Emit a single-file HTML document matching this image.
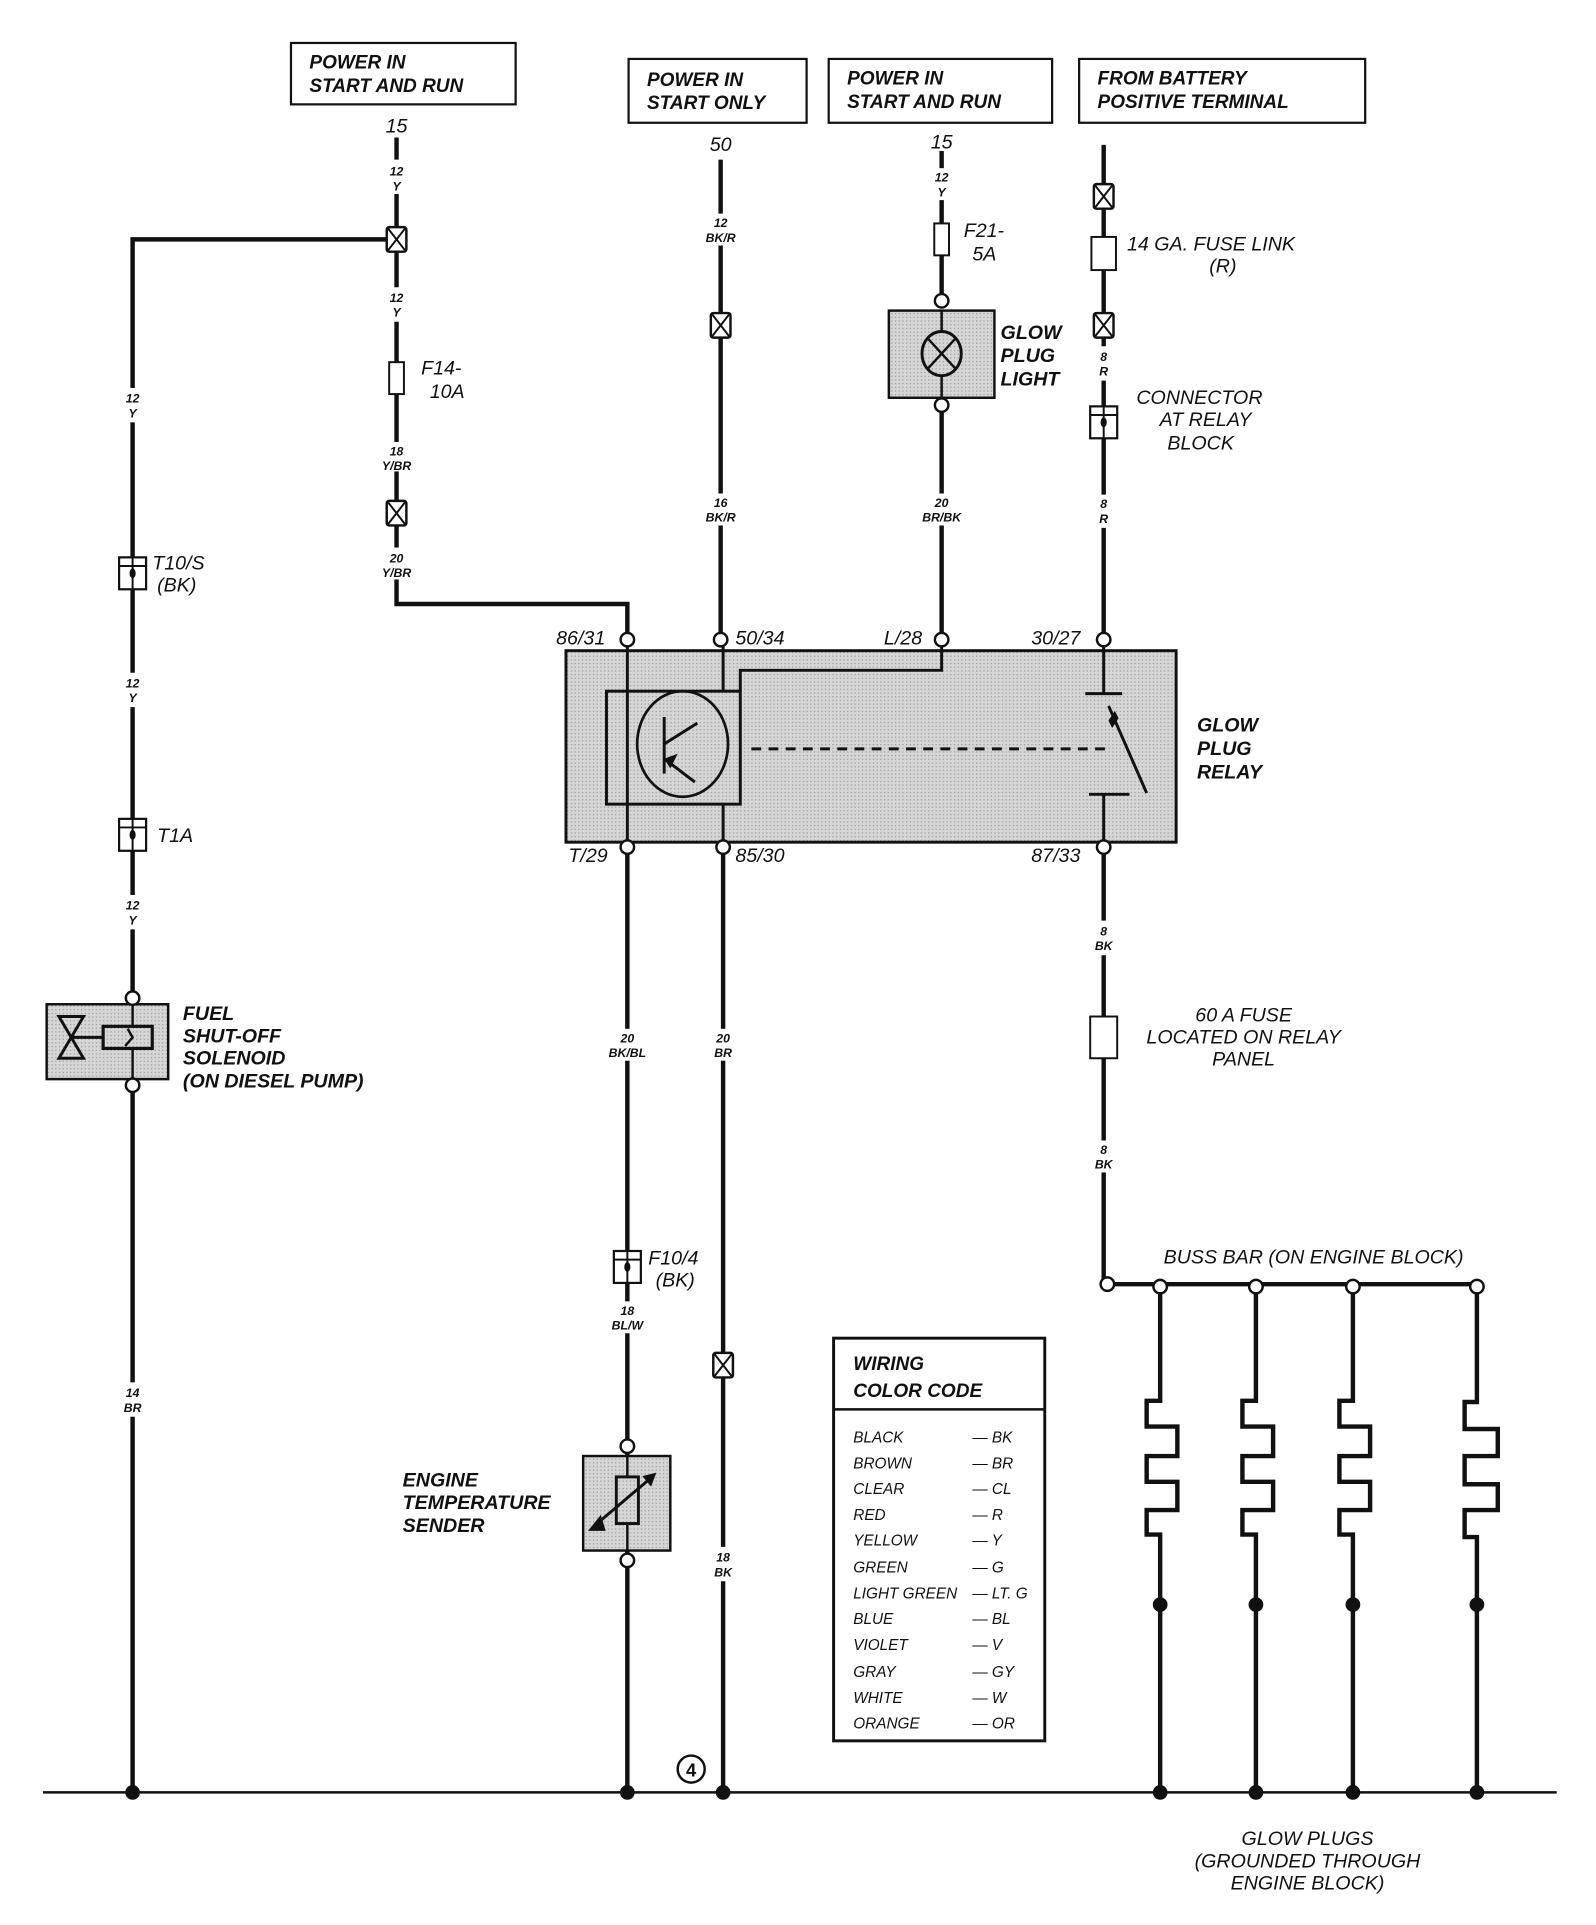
<!DOCTYPE html>
<html><head><meta charset="utf-8"><style>
html,body{margin:0;padding:0;background:#fff}
svg{display:block}
text{font-family:"Liberation Sans",Arial,sans-serif;font-style:italic;fill:#111}
.h{font-size:15.5px;font-weight:bold}
.w{font-size:10px;font-weight:bold;text-anchor:middle}
.b{font-size:16px;font-weight:bold}
.n{font-size:16px}
.c{font-size:12.5px}
</style></head><body>
<svg width="1596" height="1925" viewBox="0 0 1300 1568" xmlns="http://www.w3.org/2000/svg">
<defs>
<pattern id="g" width="3" height="3" patternUnits="userSpaceOnUse"><rect width="3" height="3" fill="#d6d6d6"/><rect width="1" height="1" fill="#9a9a9a"/></pattern>
<g id="sp"><rect x="-8" y="-10" width="16" height="20" rx="2" fill="#fff" stroke="#111" stroke-width="2"/><path d="M-7 -9L7 9M7 -9L-7 9" stroke="#111" stroke-width="1.6"/></g>
<g id="fu"><rect x="-6" y="-13" width="12" height="26" fill="#fff" stroke="#111" stroke-width="1.6"/></g>
<g id="cn"><rect x="-11" y="-13" width="22" height="26" fill="#fff" stroke="#111" stroke-width="1.8"/><line x1="-11" y1="-6" x2="11" y2="-6" stroke="#111" stroke-width="1.6"/><line x1="0" y1="-13" x2="0" y2="13" stroke="#111" stroke-width="1.6"/><ellipse cx="0" cy="0" rx="2.5" ry="4" fill="#111"/></g>
<g id="oc"><circle r="5.5" fill="#fff" stroke="#111" stroke-width="2"/></g>
</defs>

<!-- header boxes -->
<g fill="#fff" stroke="#111" stroke-width="1.8">
<rect x="237" y="35" width="183" height="50"/>
<rect x="512" y="48" width="145" height="52"/>
<rect x="675" y="48" width="182" height="52"/>
<rect x="879" y="48" width="233" height="52"/>
</g>
<text class="h" x="252" y="56">POWER IN</text><text class="h" x="252" y="75">START AND RUN</text>
<text class="h" x="527" y="70">POWER IN</text><text class="h" x="527" y="89">START ONLY</text>
<text class="h" x="690" y="69">POWER IN</text><text class="h" x="690" y="88">START AND RUN</text>
<text class="h" x="894" y="69">FROM BATTERY</text><text class="h" x="894" y="88">POSITIVE TERMINAL</text>

<!-- wires -->
<g stroke="#111" stroke-width="3.6" fill="none">
<path d="M323 112V130M323 158V235M323 262V492H511V521"/>
<path d="M108 1460V195H323"/>
<path d="M587 130V175M587 200V403M587 428V521"/>
<path d="M767 123V138M767 162V245M767 330V403M767 428V521"/>
<path d="M899 118V282M899 310V403M899 430V521"/>
<path d="M511 690V1460M589 690V1460"/>
<path d="M899 690V750M899 778V930M899 955V1046H1203"/>
<path d="M945 1048V1141H934V1162H959V1186H934V1207H959V1230H934V1250H945V1460"/>
<path d="M1023 1048V1141H1012V1162H1037V1186H1012V1207H1037V1230H1012V1250H1023V1460"/>
<path d="M1102 1048V1141H1091V1162H1116V1186H1091V1207H1116V1230H1091V1250H1102V1460"/>
<path d="M1203 1048V1142H1193V1164H1220V1186H1193V1209H1220V1230H1193V1252H1203V1460"/>
</g>
<line x1="35" y1="1460" x2="1268" y2="1460" stroke="#111" stroke-width="2"/>

<!-- wire label gaps -->
<g fill="#fff">
<rect x="313" y="131" width="20" height="26"/><rect x="313" y="234" width="20" height="28"/><rect x="308" y="360" width="30" height="24"/><rect x="308" y="446" width="30" height="26"/>
<rect x="98" y="316" width="20" height="28"/><rect x="98" y="548" width="20" height="28"/><rect x="98" y="729" width="20" height="28"/><rect x="98" y="1126" width="20" height="28"/>
<rect x="572" y="174" width="30" height="26"/><rect x="572" y="402" width="30" height="26"/>
<rect x="752" y="137" width="30" height="26"/><rect x="750" y="402" width="34" height="26"/>
<rect x="889" y="283" width="20" height="26"/><rect x="889" y="403" width="20" height="26"/><rect x="889" y="750" width="20" height="28"/><rect x="889" y="929" width="20" height="26"/>
<rect x="495" y="838" width="32" height="26"/><rect x="576" y="838" width="26" height="26"/><rect x="495" y="1060" width="32" height="26"/><rect x="576" y="1260" width="26" height="28"/>
</g>
<g>
<text class="w" x="323" y="143">12</text><text class="w" x="323" y="155">Y</text>
<text class="w" x="323" y="246">12</text><text class="w" x="323" y="258">Y</text>
<text class="w" x="323" y="371">18</text><text class="w" x="323" y="383">Y/BR</text>
<text class="w" x="323" y="458">20</text><text class="w" x="323" y="470">Y/BR</text>
<text class="w" x="108" y="328">12</text><text class="w" x="108" y="340">Y</text>
<text class="w" x="108" y="560">12</text><text class="w" x="108" y="572">Y</text>
<text class="w" x="108" y="741">12</text><text class="w" x="108" y="753">Y</text>
<text class="w" x="108" y="1138">14</text><text class="w" x="108" y="1150">BR</text>
<text class="w" x="587" y="185">12</text><text class="w" x="587" y="197">BK/R</text>
<text class="w" x="587" y="413">16</text><text class="w" x="587" y="425">BK/R</text>
<text class="w" x="767" y="148">12</text><text class="w" x="767" y="160">Y</text>
<text class="w" x="767" y="413">20</text><text class="w" x="767" y="425">BR/BK</text>
<text class="w" x="899" y="294">8</text><text class="w" x="899" y="306">R</text>
<text class="w" x="899" y="414">8</text><text class="w" x="899" y="426">R</text>
<text class="w" x="899" y="762">8</text><text class="w" x="899" y="774">BK</text>
<text class="w" x="899" y="940">8</text><text class="w" x="899" y="952">BK</text>
<text class="w" x="511" y="849">20</text><text class="w" x="511" y="861">BK/BL</text>
<text class="w" x="589" y="849">20</text><text class="w" x="589" y="861">BR</text>
<text class="w" x="511" y="1071">18</text><text class="w" x="511" y="1083">BL/W</text>
<text class="w" x="589" y="1272">18</text><text class="w" x="589" y="1284">BK</text>
</g>
<text class="n" x="323" y="108" text-anchor="middle">15</text>
<text class="n" x="587" y="123" text-anchor="middle">50</text>
<text class="n" x="767" y="121" text-anchor="middle">15</text>

<!-- splices, fuses, connectors -->
<use href="#sp" x="323" y="195"/><use href="#sp" x="323" y="418"/><use href="#sp" x="587" y="265"/>
<use href="#sp" x="899" y="160"/><use href="#sp" x="899" y="265"/><use href="#sp" x="589" y="1112"/>
<use href="#fu" x="323" y="308"/><use href="#fu" x="767" y="195"/>
<rect x="889" y="193" width="20" height="27" fill="#fff" stroke="#111" stroke-width="1.6"/>
<rect x="888" y="828" width="22" height="34" fill="#fff" stroke="#111" stroke-width="1.6"/>
<use href="#cn" x="108" y="467"/><use href="#cn" x="108" y="680"/><use href="#cn" x="899" y="344"/><use href="#cn" x="511" y="1032"/>
<text class="n" x="343" y="305">F14-</text><text class="n" x="350" y="324">10A</text>
<text class="n" x="785" y="193">F21-</text><text class="n" x="792" y="212">5A</text>
<text class="n" x="918" y="204">14 GA. FUSE LINK</text><text class="n" x="985" y="222">(R)</text>
<text class="n" x="977" y="329" text-anchor="middle">CONNECTOR</text><text class="n" x="982" y="347" text-anchor="middle">AT RELAY</text><text class="n" x="978" y="366" text-anchor="middle">BLOCK</text>
<text class="n" x="124" y="464">T10/S</text><text class="n" x="128" y="482">(BK)</text>
<text class="n" x="128" y="686">T1A</text>
<text class="n" x="528" y="1030">F10/4</text><text class="n" x="534" y="1048">(BK)</text>
<text class="n" x="1013" y="832" text-anchor="middle">60 A FUSE</text><text class="n" x="1013" y="850" text-anchor="middle">LOCATED ON RELAY</text><text class="n" x="1013" y="868" text-anchor="middle">PANEL</text>

<!-- glow plug light -->
<rect x="724" y="253" width="86" height="71" fill="url(#g)" stroke="#111" stroke-width="2"/>
<line x1="767" y1="253" x2="767" y2="324" stroke="#111" stroke-width="2"/>
<ellipse cx="767" cy="288" rx="16" ry="18" fill="url(#g)" stroke="#111" stroke-width="2.4"/>
<path d="M756 276L778 300M778 276L756 300" stroke="#111" stroke-width="2"/>
<use href="#oc" x="767" y="245"/><use href="#oc" x="767" y="330"/>
<text class="b" x="815" y="276">GLOW</text><text class="b" x="815" y="295">PLUG</text><text class="b" x="815" y="314">LIGHT</text>

<!-- relay -->
<rect x="461" y="530" width="497" height="156" fill="url(#g)" stroke="#111" stroke-width="2.4"/>
<g stroke="#111" stroke-width="2.4" fill="none">
<path d="M511 521V690M589 521V563M589 655V690M767 521V546H603V563"/>
<rect x="494" y="563" width="109" height="92"/>
<ellipse cx="556" cy="606" rx="37" ry="43" stroke-width="2.2"/>
<path d="M541 584V630M541 606L568 589M541 618L566 637"/>
<path d="M899 521V565M884 565H914M887 647H920M899 647V690M903 575L934 646"/>
<path d="M612 610H900" stroke-dasharray="8 6"/>
</g>
<path d="M541 618L552 614L546 626Z" fill="#111"/>
<path d="M904 587L908 581L910 585L906 591Z" fill="#111" stroke="#111" stroke-width="2"/>
<use href="#oc" x="511" y="521"/><use href="#oc" x="587" y="521"/><use href="#oc" x="767" y="521"/><use href="#oc" x="899" y="521"/>
<use href="#oc" x="511" y="690"/><use href="#oc" x="589" y="690"/><use href="#oc" x="899" y="690"/>
<text class="n" x="453" y="525">86/31</text><text class="n" x="599" y="525">50/34</text><text class="n" x="720" y="525">L/28</text><text class="n" x="840" y="525">30/27</text>
<text class="n" x="463" y="702">T/29</text><text class="n" x="599" y="702">85/30</text><text class="n" x="840" y="702">87/33</text>
<text class="b" x="975" y="596">GLOW</text><text class="b" x="975" y="615">PLUG</text><text class="b" x="975" y="634">RELAY</text>

<!-- fuel solenoid -->
<rect x="38" y="818" width="99" height="61" fill="url(#g)" stroke="#111" stroke-width="2"/>
<line x1="108" y1="818" x2="108" y2="879" stroke="#111" stroke-width="2"/>
<path d="M48 828H68L48 862H68Z" fill="none" stroke="#111" stroke-width="2.4"/>
<path d="M58 845H84" stroke="#111" stroke-width="2.4"/>
<rect x="84" y="836" width="40" height="18" fill="url(#g)" stroke="#111" stroke-width="2.6"/>
<path d="M104 838L108 845L102 852" stroke="#111" stroke-width="2" fill="none"/>
<use href="#oc" x="108" y="813"/><use href="#oc" x="108" y="884"/>
<text class="b" x="149" y="831">FUEL</text><text class="b" x="149" y="849">SHUT-OFF</text><text class="b" x="149" y="867">SOLENOID</text><text class="b" x="149" y="886">(ON DIESEL PUMP)</text>

<!-- engine temp sender -->
<rect x="475" y="1186" width="71" height="77" fill="url(#g)" stroke="#111" stroke-width="2"/>
<line x1="511" y1="1186" x2="511" y2="1263" stroke="#111" stroke-width="2"/>
<rect x="502" y="1203" width="18" height="38" fill="url(#g)" stroke="#111" stroke-width="2.4"/>
<path d="M484 1243L530 1204" stroke="#111" stroke-width="2.4"/>
<path d="M481 1246L489 1236L492 1246Z M533 1201L525 1203L530 1209Z" fill="#111" stroke="#111" stroke-width="2"/>
<use href="#oc" x="511" y="1178"/><use href="#oc" x="511" y="1271"/>
<text class="b" x="328" y="1211">ENGINE</text><text class="b" x="328" y="1229">TEMPERATURE</text><text class="b" x="328" y="1248">SENDER</text>

<!-- buss bar -->
<use href="#oc" x="902" y="1046"/><use href="#oc" x="945" y="1048"/><use href="#oc" x="1023" y="1048"/><use href="#oc" x="1102" y="1048"/><use href="#oc" x="1203" y="1048"/>
<text class="n" x="1070" y="1029" text-anchor="middle">BUSS BAR (ON ENGINE BLOCK)</text>
<g fill="#111">
<circle cx="945" cy="1307" r="6"/><circle cx="1023" cy="1307" r="6"/><circle cx="1102" cy="1307" r="6"/><circle cx="1203" cy="1307" r="6"/>
<circle cx="945" cy="1460" r="6"/><circle cx="1023" cy="1460" r="6"/><circle cx="1102" cy="1460" r="6"/><circle cx="1203" cy="1460" r="6"/>
<circle cx="108" cy="1460" r="6"/><circle cx="511" cy="1460" r="6"/><circle cx="589" cy="1460" r="6"/>
</g>
<circle cx="563" cy="1441" r="11" fill="#fff" stroke="#111" stroke-width="2"/>
<text x="563" y="1447" text-anchor="middle" style="font-size:15px;font-weight:bold;font-style:normal">4</text>
<text class="n" x="1065" y="1503" text-anchor="middle">GLOW PLUGS</text><text class="n" x="1065" y="1521" text-anchor="middle">(GROUNDED THROUGH</text><text class="n" x="1065" y="1539" text-anchor="middle">ENGINE BLOCK)</text>

<!-- color code -->
<rect x="679" y="1090" width="172" height="328" fill="#fff" stroke="#111" stroke-width="2.4"/>
<line x1="679" y1="1148" x2="851" y2="1148" stroke="#111" stroke-width="2"/>
<text class="h" x="695" y="1116">WIRING</text><text class="h" x="695" y="1138">COLOR CODE</text>
<g class="c">
<text class="c" x="695" y="1175">BLACK</text><text class="c" x="792" y="1175">— BK</text>
<text class="c" x="695" y="1196">BROWN</text><text class="c" x="792" y="1196">— BR</text>
<text class="c" x="695" y="1217">CLEAR</text><text class="c" x="792" y="1217">— CL</text>
<text class="c" x="695" y="1238">RED</text><text class="c" x="792" y="1238">— R</text>
<text class="c" x="695" y="1259">YELLOW</text><text class="c" x="792" y="1259">— Y</text>
<text class="c" x="695" y="1281">GREEN</text><text class="c" x="792" y="1281">— G</text>
<text class="c" x="695" y="1302">LIGHT GREEN</text><text class="c" x="792" y="1302">— LT. G</text>
<text class="c" x="695" y="1323">BLUE</text><text class="c" x="792" y="1323">— BL</text>
<text class="c" x="695" y="1344">VIOLET</text><text class="c" x="792" y="1344">— V</text>
<text class="c" x="695" y="1366">GRAY</text><text class="c" x="792" y="1366">— GY</text>
<text class="c" x="695" y="1387">WHITE</text><text class="c" x="792" y="1387">— W</text>
<text class="c" x="695" y="1408">ORANGE</text><text class="c" x="792" y="1408">— OR</text>
</g>
</svg>
</body></html>
